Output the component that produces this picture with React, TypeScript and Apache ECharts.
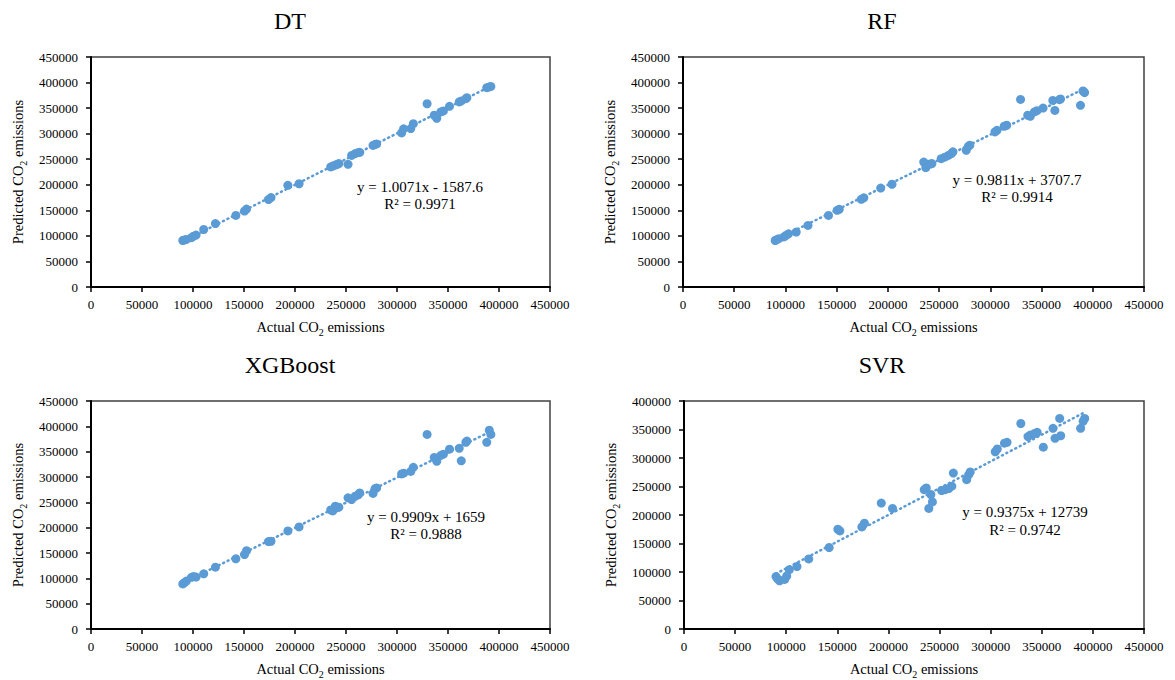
import React, { useEffect, useRef } from "react";
import * as echarts from "echarts";

// Shared actual CO2 emissions (test set)
const actual = [
  90000, 91500, 93500, 98500, 100500, 103000, 110500, 122000, 142000, 150500,
  152500, 174000, 176500, 193000, 204000, 235000, 237000, 239500, 241500, 243000,
  252000, 255500, 259000, 262000, 263500, 276500, 278500, 280000, 304500, 306500,
  313500, 316000, 329500, 336500, 339000, 343000, 345500, 351500, 361000, 363000,
  367500, 368500, 388000, 390500, 392000,
];

const predDT = [
  91000, 92000, 93000, 96500, 99500, 101500, 112500, 124000, 140000, 148500,
  152500, 171000, 175000, 199000, 202000, 235000, 236500, 238500, 240000, 241500,
  240000, 257500, 261000, 263000, 263500, 277000, 279000, 280000, 301500, 309500,
  310000, 319500, 358500, 336000, 330000, 342500, 344500, 353500, 362000, 364000,
  368500, 370500, 390000, 391500, 392500,
];

const predRF = [
  91000, 92500, 94500, 98000, 101000, 104000, 107500, 120500, 140000, 150000,
  152000, 171500, 174500, 193500, 201000, 244500, 233500, 240000, 240500, 241500,
  251000, 254000, 257500, 261000, 264500, 267500, 275000, 277500, 303500, 306500,
  314500, 316500, 367000, 336000, 334000, 342500, 345000, 350000, 365000, 345500,
  366500, 368000, 355500, 383500, 380500,
];

const predXGB = [
  89000, 91500, 94500, 102000, 103500, 102500, 109000, 122000, 138500, 147000,
  154500, 172500, 173000, 193500, 201500, 235000, 233000, 242500, 239500, 240500,
  259000, 255500, 262000, 265000, 268500, 267500, 277000, 278500, 306000, 307500,
  311000, 319000, 384000, 338500, 331000, 342500, 345000, 355000, 356500, 332000,
  368500, 371000, 368500, 392500, 384000,
];

const predSVR = [
  92000, 88000, 84500, 87000, 93000, 104000, 109500, 123000, 143000, 175000,
  172000, 179000, 185500, 221000, 211500, 244500, 247500, 211500, 236000, 223000,
  243000, 244500, 246500, 250500, 273500, 262000, 270500, 275500, 311000, 316000,
  326000, 327500, 360500, 337500, 340500, 343000, 345000, 319000, 352000, 334500,
  369500, 339000, 352000, 364500, 369500,
];

const modelNames = ["DT", "RF", "XGBoost", "SVR"];
const slopes = [1.0071, 0.9811, 0.9909, 0.9375];
const intercepts = [-1587.6, 3707.7, 1659, 12739];
const r2Values = ["0.9971", "0.9914", "0.9888", "0.9742"];
const yMaxes = [450000, 450000, 450000, 400000];
const xTickMax = 450000;
const tickStep = 50000;

const predictions = [predDT, predRF, predXGB, predSVR];

const BLUE = "#5B9BD5";
const SERIF = '"Liberation Serif", "Times New Roman", serif';

const grids = [
  { left: 91, top: 57, width: 459, height: 230 },
  { left: 683, top: 57, width: 461, height: 230 },
  { left: 91, top: 401, width: 459, height: 230 },
  { left: 684, top: 401, width: 460, height: 230 },
];

// title centres (chart-area centres)
const titlePos = [
  { x: 290, y: 9 },
  { x: 882, y: 9 },
  { x: 290, y: 353 },
  { x: 882, y: 353 },
];

const eqPos = [
  { x: 420, y: 187, r2y: 204 },
  { x: 1017, y: 180, r2y: 197 },
  { x: 426, y: 517, r2y: 534 },
  { x: 1025, y: 512, r2y: 530 },
];

const nameRich = {
  sub: {
    fontSize: 10,
    fontFamily: SERIF,
    color: "#000",
    verticalAlign: "bottom",
    lineHeight: 10,
  },
};

export default function App() {
  const ref = useRef<HTMLDivElement>(null);

  useEffect(() => {
    if (!ref.current) return;
    const chart = echarts.init(ref.current, undefined, { renderer: "svg" });

    const xMin = Math.min(...actual);
    const xMax = Math.max(...actual);

    const option: any = {
      animation: false,
      backgroundColor: "#ffffff",
      title: modelNames.map((name, i) => ({
        text: name,
        left: titlePos[i].x,
        top: titlePos[i].y,
        textAlign: "center",
        padding: 0,
        textStyle: {
          fontFamily: SERIF,
          fontSize: 24,
          fontWeight: "normal",
          color: "#000",
        },
      })),
      grid: grids.map((g) => ({
        ...g,
        show: true,
        borderColor: "#404040",
        borderWidth: 1.5,
        backgroundColor: "transparent",
        containLabel: false,
      })),
      xAxis: grids.map((_, i) => ({
        type: "value",
        gridIndex: i,
        min: 0,
        max: xTickMax,
        interval: tickStep,
        name: "Actual CO{sub|2} emissions",
        nameLocation: "middle",
        nameGap: 30,
        nameTextStyle: {
          fontFamily: SERIF,
          fontSize: 14.5,
          color: "#000",
          lineHeight: 20,
          rich: nameRich,
        },
        axisLine: { show: true, lineStyle: { color: "#000", width: 2 } },
        axisTick: { show: true, length: 5, lineStyle: { color: "#000", width: 1.5 } },
        axisLabel: {
          fontFamily: SERIF,
          fontSize: 13,
          color: "#000",
          margin: 11,
          formatter: (v: number) => String(v),
        },
        splitLine: { show: false },
      })),
      yAxis: grids.map((_, i) => ({
        type: "value",
        gridIndex: i,
        min: 0,
        max: yMaxes[i],
        interval: tickStep,
        name: "Predicted CO{sub|2} emissions",
        nameLocation: "middle",
        nameGap: 63,
        nameTextStyle: {
          fontFamily: SERIF,
          fontSize: 14.5,
          color: "#000",
          lineHeight: 20,
          rich: nameRich,
        },
        axisLine: { show: true, lineStyle: { color: "#000", width: 2 } },
        axisTick: { show: true, length: 5, lineStyle: { color: "#000", width: 1.5 } },
        axisLabel: {
          fontFamily: SERIF,
          fontSize: 13,
          color: "#000",
          margin: 13,
          formatter: (v: number) => String(v),
        },
        splitLine: { show: false },
      })),
      series: [
        ...predictions.map((pred, i) => ({
          type: "scatter",
          xAxisIndex: i,
          yAxisIndex: i,
          symbol: "circle",
          symbolSize: 9,
          itemStyle: { color: BLUE, opacity: 1 },
          data: actual.map((a, k) => [a, pred[k]]),
          z: 3,
        })),
        ...predictions.map((_, i) => ({
          type: "line",
          xAxisIndex: i,
          yAxisIndex: i,
          symbol: "none",
          silent: true,
          lineStyle: {
            color: BLUE,
            width: 2.5,
            type: [1, 4],
            cap: "round",
          },
          data: [
            [xMin, slopes[i] * xMin + intercepts[i]],
            [xMax, slopes[i] * xMax + intercepts[i]],
          ],
          z: 4,
        })),
      ],
      graphic: eqPos.flatMap((p, i) => {
        const b = intercepts[i];
        const eq = `y = ${slopes[i]}x ${b < 0 ? "-" : "+"} ${Math.abs(b)}`;
        return [
          {
            type: "text",
            x: p.x,
            y: p.y,
            z: 10,
            style: {
              text: eq,
              textAlign: "center",
              textVerticalAlign: "middle",
              fontFamily: SERIF,
              fontSize: 15,
              fill: "#000",
            },
          },
          {
            type: "text",
            x: p.x,
            y: p.r2y,
            z: 10,
            style: {
              text: `R² = ${r2Values[i]}`,
              textAlign: "center",
              textVerticalAlign: "middle",
              fontFamily: SERIF,
              fontSize: 15,
              fill: "#000",
            },
          },
        ];
      }),
    };

    chart.setOption(option);
    return () => chart.dispose();
  }, []);

  return (
    <div
      ref={ref}
      style={{
        position: "fixed",
        left: 0,
        top: 0,
        width: 1175,
        height: 680,
        background: "#fff",
      }}
    />
  );
}
